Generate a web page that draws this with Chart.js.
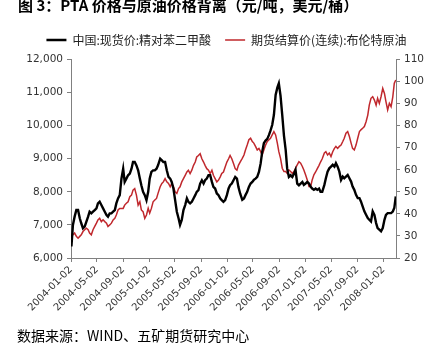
<!DOCTYPE html>
<html>
<head>
<meta charset="utf-8">
<script src="https://cdn.jsdelivr.net/npm/chart.js@4"></script>
<style>
  body { margin: 0; background: #fff; }
  #wrap { position: relative; width: 429px; height: 343px; overflow: hidden; }
  #title { position: absolute; left: 18px; top: -3px; font: bold 15px/1 "Noto Sans CJK SC"; color: #000; white-space: nowrap; }
  #source { position: absolute; left: 17px; top: 328px; font: 14px/1 "Noto Sans CJK SC"; color: #000; white-space: nowrap; }
  canvas { position: absolute; left: 0; top: 0; }
</style>
</head>
<body>
<div id="wrap">
  <canvas id="plot" width="429" height="343"></canvas>
  <div id="title">图 3：PTA 价格与原油价格背离（元/吨，美元/桶）</div>
  <div id="source">数据来源：WIND、五矿期货研究中心</div>
</div>
<script>
let sampleDays = [
  2, 9, 17, 25, 33, 41, 48, 56, 64, 72, 80, 87, 95, 103, 111, 119, 126, 134, 142, 150,
  158, 166, 173, 181, 189, 197, 205, 212, 220, 228, 236, 244, 251, 259, 267, 275, 283, 290, 298, 306,
  314, 322, 329, 337, 345, 353, 361, 368, 376, 384, 392, 400, 407,
  417, 425, 432, 440, 448, 456, 464, 471, 479, 487, 495, 503, 510, 518, 526, 534, 542, 549, 557, 565,
  573, 581, 588, 596, 604, 612, 620, 627, 635, 643, 651, 659, 666, 674, 682, 690, 698, 705, 713, 721,
  729, 737, 744, 752, 760, 768, 776, 783, 791,
  801, 809, 816, 824, 832, 840, 848, 855, 863, 871, 879, 887, 894, 902, 910, 918, 926, 933, 941, 949,
  957, 965, 972, 980, 988, 996, 1004, 1011, 1019, 1027, 1035, 1043, 1050, 1058, 1066, 1074, 1082, 1089, 1097, 1105,
  1113, 1121, 1128, 1136, 1144, 1152, 1160, 1167, 1175,
  1185, 1192, 1200, 1208, 1216, 1224, 1232, 1239, 1247, 1255, 1263, 1271, 1278, 1286, 1294, 1302, 1310, 1317, 1325, 1333,
  1341, 1349, 1356, 1364, 1372, 1380, 1388, 1395, 1403, 1411, 1419, 1427, 1434, 1442, 1450, 1458, 1466, 1473, 1481, 1489,
  1497, 1505, 1512, 1519
];

// 中国:现货价:精对苯二甲酸 (元/吨)
let ptaPrice = [
  6350, 7000, 7250, 7450, 7450, 7200, 7050, 6900, 6950, 7100, 7250, 7400, 7350, 7400, 7450, 7500, 7650, 7700, 7600, 7500,
  7400, 7300, 7250, 7350, 7350, 7400, 7450, 7650, 7800, 7900, 8400, 8700, 8300, 8400, 8500, 8550, 8700, 8900, 8900, 8800,
  8650, 8400, 8200, 8000, 7900, 7750, 8000, 8400, 8600, 8650, 8650, 8700, 8800,
  9000, 8950, 8900, 8900, 8650, 8450, 8400, 8300, 8100, 7750, 7400, 7200, 7000, 7150, 7450, 7600, 7800, 7700, 7650, 7700,
  7800, 7900, 8000, 8050, 8250, 8350, 8250, 8350, 8400, 8500, 8500, 8300, 8150, 8100, 7950, 7900, 7800, 7750, 7700, 7750,
  7900, 8100, 8200, 8250, 8350, 8450, 8400, 8150, 7950,
  7760, 7800, 7900, 8000, 8150, 8250, 8300, 8360, 8400, 8450, 8600, 8860, 9200, 9470, 9550, 9600, 9720, 9850, 10020, 10330,
  10930, 11150, 11280, 10900, 10320, 9700, 9270, 8700, 8450, 8500, 8450, 8550, 8660, 8250, 8200, 8250, 8300, 8210, 8250, 8300,
  8250, 8150, 8100, 8060, 8100, 8060, 8100, 8000, 8000,
  8210, 8410, 8610, 8710, 8760, 8815, 8760, 8865, 8760, 8610, 8360, 8460, 8410, 8460, 8510, 8410, 8310, 8160, 8060, 7910,
  7810, 7810, 7710, 7560, 7410, 7305, 7205, 7155, 7105, 7410, 7305, 7055, 6905, 6855, 6805, 6905, 7155, 7305, 7355, 7355,
  7355, 7405, 7510, 7860
];

// 期货结算价(连续):布伦特原油 (美元/桶)
let brentPrice = [
  29.8, 30.5, 31.3, 29.8, 29.0, 29.8, 30.5, 32.0, 32.8, 33.5, 32.8, 31.3, 30.5, 32.8, 34.3, 35.8, 37.3, 38.0, 36.5, 37.3,
  36.5, 35.8, 34.3, 35.0, 35.8, 37.3, 38.0, 39.5, 41.8, 42.5, 42.5, 42.5, 44.0, 44.8, 45.5, 47.8, 48.5, 50.8, 51.5, 48.5,
  44.0, 45.5, 41.8, 41.0, 38.0, 39.5, 42.5, 40.3, 42.5, 45.5, 46.3, 47.0, 49.3,
  52.3, 53.8, 54.5, 56.0, 54.5, 53.8, 52.3, 53.8, 52.3, 50.0, 49.3, 51.5, 52.3, 54.5, 56.0, 57.5, 59.0, 59.8, 58.3, 59.8,
  62.0, 63.5, 65.8, 66.5, 67.3, 65.0, 63.5, 62.0, 60.5, 59.8, 58.3, 59.8, 57.5, 56.0, 54.5, 55.3, 56.8, 58.3, 59.0, 61.3,
  63.5, 65.0, 66.5, 65.0, 62.8, 60.5, 59.8, 62.0, 63.5,
  65.2, 66.7, 69.0, 71.2, 73.6, 74.3, 72.8, 72.1, 70.6, 69.0, 69.7, 68.2, 66.7, 69.0, 71.2, 72.8, 73.6, 74.3, 75.8, 77.3,
  75.8, 72.1, 68.2, 65.2, 60.7, 59.2, 59.2, 58.4, 59.9, 59.2, 58.4, 59.2, 60.7, 62.2, 63.7, 63.0, 61.5, 59.9, 57.7, 55.4,
  52.4, 52.4, 55.4, 57.7, 59.0, 60.5, 62.0, 63.5, 65.0,
  67.6, 68.2, 66.7, 67.6, 66.0, 68.2, 69.7, 70.6, 69.7, 70.6, 71.2, 72.8, 74.3, 76.6, 77.3, 75.1, 72.1, 69.7, 69.0, 71.2,
  74.3, 77.3, 78.1, 78.8, 79.6, 81.8, 84.8, 89.3, 92.4, 93.1, 91.6, 89.3, 92.4, 90.1, 93.1, 96.9, 94.6, 90.9, 87.1, 90.1,
  88.6, 93.1, 99.2, 100.7
];

// Etiquetas del eje x
let tickLabels = [
  "2004-01-02", "2004-05-02", "2004-09-02", "2005-01-02", "2005-05-02", "2005-09-02", "2006-01-02",
  "2006-05-02", "2006-09-02", "2007-01-02", "2007-05-02", "2007-09-02", "2008-01-02"
];

let day0 = Date.parse(tickLabels[0]);
let tickDays = tickLabels.map((d) => (Date.parse(d) - day0) / 86400000);

let axisColor = "#808080";
let tickColor = "#333333";
let numFont = { family: "'DejaVu Sans', sans-serif", size: 10 };

// separacion extra entre leyenda y grafico
let legendGap = {
  id: "legendGap",
  beforeInit(chart) {
    let fit = chart.legend.fit;
    chart.legend.fit = function () {
      fit.call(this);
      this.height += 3.5;
    };
  },
};

let config = {
  type: "line",
  data: {
    datasets: [
      {
        label: "中国:现货价:精对苯二甲酸",
        data: sampleDays.map((d, i) => ({ x: d, y: ptaPrice[i] })),
        borderColor: "#000000",
        backgroundColor: "#000000",
        borderWidth: 2.4,
        pointRadius: 0,
        tension: 0,
        yAxisID: "yLeft",
      },
      {
        label: "期货结算价(连续):布伦特原油",
        data: sampleDays.map((d, i) => ({ x: d, y: brentPrice[i] })),
        borderColor: "#C0282D",
        backgroundColor: "#C0282D",
        borderWidth: 1.5,
        pointRadius: 0,
        tension: 0,
        yAxisID: "yRight",
      },
    ],
  },
  options: {
    responsive: false,
    animation: false,
    devicePixelRatio: 1,
    layout: { padding: { top: 20, left: 24, right: 0, bottom: 0 } },
    plugins: {
      legend: {
        position: "top",
        labels: {
          boxWidth: 20,
          boxHeight: 0,
          padding: 14,
          color: "#222222",
          font: { family: "'Noto Sans CJK SC'", size: 12 },
        },
      },
      tooltip: { enabled: false },
    },
    scales: {
      x: {
        type: "linear",
        min: 0,
        max: 1520,
        afterBuildTicks: (scale) => {
          scale.ticks = tickDays.map((v) => ({ value: v }));
        },
        afterFit: (scale) => {
          scale.height = 85;
        },
        ticks: {
          autoSkip: false,
          minRotation: 45,
          maxRotation: 45,
          padding: 2,
          color: tickColor,
          font: numFont,
          callback: (v, i) => tickLabels[i],
        },
        grid: { drawOnChartArea: false, drawTicks: true, tickLength: 4, color: axisColor },
        border: { color: axisColor },
      },
      yLeft: {
        position: "left",
        min: 6000,
        max: 12000,
        afterFit: (scale) => {
          scale.width = 47;
        },
        ticks: {
          stepSize: 1000,
          padding: 4,
          color: tickColor,
          font: { family: "'DejaVu Sans', sans-serif", size: 10.5 },
          callback: (v) => v.toLocaleString("en-US"),
        },
        grid: { drawOnChartArea: false, drawTicks: true, tickLength: 4, color: axisColor },
        border: { color: axisColor },
      },
      yRight: {
        position: "right",
        min: 20,
        max: 110,
        afterFit: (scale) => {
          scale.width = 33;
        },
        ticks: {
          stepSize: 10,
          padding: 4,
          color: tickColor,
          font: { family: "'DejaVu Sans', sans-serif", size: 10.5 },
        },
        grid: { drawOnChartArea: false, drawTicks: true, tickLength: 4, color: axisColor },
        border: { color: axisColor },
      },
    },
  },
  plugins: [legendGap],
};

let chart = new Chart(document.getElementById("plot"), config);
</script>
</body>
</html>
